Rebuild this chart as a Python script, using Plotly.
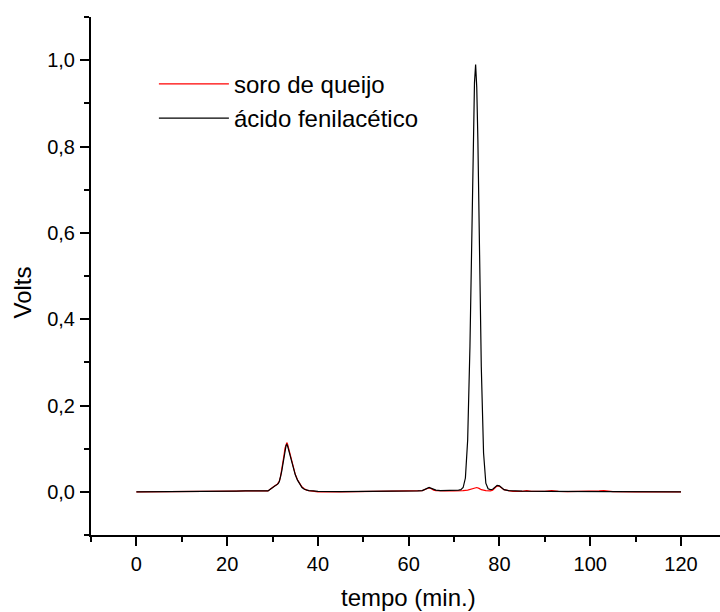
import plotly.graph_objects as go

# ---- data ----
x_acido = [0, 5, 10, 15, 20, 22, 24, 26, 27, 27.5, 28, 28.5, 29, 29.5, 30, 30.5, 31, 31.25, 31.5,
           31.75, 32, 32.25, 32.5, 32.75, 33, 33.15, 33.3, 33.5, 33.75, 34, 34.5, 35, 35.5, 36,
           36.5, 37, 37.5, 38, 39, 40, 45, 50, 55, 60, 62, 63, 64, 64.5, 65, 65.5, 66, 67, 68,
           70, 71, 71.5, 72, 72.5, 73, 73.5, 73.75, 74, 74.25, 74.5, 74.75, 75, 75.25, 75.5,
           75.75, 76, 76.5, 77, 77.5, 78, 78.5, 79, 79.5, 80, 80.5, 81, 82, 83, 85, 90, 95, 100,
           105, 110, 115, 120]
y_acido = [0.0, 0.0, 0.0005, 0.0005, 0.001, 0.0015, 0.002, 0.002, 0.003, 0.003, 0.0025, 0.002,
           0.002, 0.006, 0.010, 0.013, 0.016, 0.019, 0.024, 0.033, 0.046, 0.062, 0.080, 0.098,
           0.108, 0.110, 0.107, 0.099, 0.088, 0.077, 0.057, 0.040, 0.027, 0.017, 0.010, 0.006,
           0.004, 0.003, 0.002, 0.001, 0.0005, 0.0005, 0.001, 0.0015, 0.002, 0.003, 0.008, 0.010,
           0.008, 0.005, 0.004, 0.003, 0.003, 0.003, 0.004, 0.005, 0.010, 0.032, 0.12, 0.336,
           0.496, 0.671, 0.833, 0.948, 0.990, 0.937, 0.815, 0.64, 0.454, 0.29, 0.09, 0.02, 0.007,
           0.005, 0.006, 0.010, 0.015, 0.014, 0.009, 0.005, 0.003, 0.002, 0.0015, 0.001, 0.001,
           0.0005, 0.0005, 0.0005, 0.0, 0.0]

x_soro = [0, 5, 10, 15, 20, 22, 24, 26, 27, 27.5, 28, 28.5, 29, 29.5, 30, 30.5, 31, 31.25, 31.5,
          31.75, 32, 32.25, 32.5, 32.75, 33, 33.15, 33.3, 33.5, 33.75, 34, 34.5, 35, 35.5, 36,
          36.5, 37, 37.5, 38, 39, 40, 45, 50, 55, 60, 62, 63, 64, 64.5, 65, 65.5, 66, 67, 68,
          70, 71, 72, 73, 74, 75, 75.5, 76, 77, 78, 78.5, 79, 79.5, 80, 80.5, 81, 82, 83, 85,
          86, 87, 90, 91.5, 93, 95, 100, 102, 103, 104, 105, 110, 115, 120]
y_soro = [0.0, 0.0, 0.0, 0.0005, 0.001, 0.0015, 0.002, 0.002, 0.003, 0.003, 0.0025, 0.002,
          0.002, 0.006, 0.011, 0.014, 0.017, 0.020, 0.025, 0.034, 0.048, 0.065, 0.083, 0.101,
          0.111, 0.114, 0.111, 0.102, 0.090, 0.079, 0.058, 0.041, 0.028, 0.018, 0.011, 0.007,
          0.004, 0.003, 0.001, 0.0, 0.0, 0.0005, 0.0005, 0.001, 0.002, 0.003, 0.007, 0.009,
          0.007, 0.004, 0.003, 0.002, 0.002, 0.002, 0.002, 0.003, 0.004, 0.007, 0.010, 0.008,
          0.005, 0.003, 0.002, 0.004, 0.009, 0.014, 0.013, 0.009, 0.005, 0.003, 0.001, 0.001,
          0.003, 0.001, 0.001, 0.003, 0.001, 0.0005, 0.0005, 0.002, 0.003, 0.002, 0.0005, 0.0,
          0.0, 0.0]

series_names = ["soro de queijo", "ácido fenilacético"]
series_colors = ["#ff0000", "#000000"]

x_ticks = [0, 20, 40, 60, 80, 100, 120]
y_ticks = [0.0, 0.2, 0.4, 0.6, 0.8, 1.0]

FONT = "Arial, 'Liberation Sans', sans-serif"

fig = go.Figure()
fig.add_trace(go.Scatter(x=x_soro, y=y_soro, mode="lines", name=series_names[0],
                         line=dict(color=series_colors[0], width=1.2)))
fig.add_trace(go.Scatter(x=x_acido, y=y_acido, mode="lines", name=series_names[1],
                         line=dict(color=series_colors[1], width=1.2)))

axis_common = dict(showgrid=False, zeroline=False, showline=True, linecolor="black",
                   linewidth=2, ticks="outside", ticklen=9, tickwidth=2, tickcolor="black",
                   tickfont=dict(family=FONT, size=20, color="black"))

fig.update_layout(
    width=720, height=612,
    margin=dict(l=91, r=0, t=17, b=77),
    paper_bgcolor="white", plot_bgcolor="white",
    separators=", ",
    font=dict(family=FONT, color="black"),
    xaxis=dict(range=[-10, 128.6], tickvals=x_ticks, ticklabelstandoff=1,
               minor=dict(dtick=10, tick0=0, ticks="outside", ticklen=5, tickwidth=2,
                          tickcolor="black"),
               **axis_common),
    yaxis=dict(range=[-0.1, 1.1], tickvals=y_ticks, tickformat=".1f", ticklabelstandoff=1,
               minor=dict(dtick=0.1, tick0=0, ticks="outside", ticklen=5, tickwidth=2,
                          tickcolor="black"),
               **axis_common),
    showlegend=True,
    legend=dict(x=0.1, y=0.9135, xanchor="left", yanchor="top", bgcolor="rgba(0,0,0,0)",
                font=dict(family=FONT, size=24, color="black"), itemwidth=70,
                tracegroupgap=0),
    annotations=[
        dict(text="Volts", xref="paper", yref="paper", x=-0.109, y=0.469, showarrow=False,
             textangle=-90, font=dict(family=FONT, size=24, color="black"),
             xanchor="center", yanchor="middle"),
        dict(text="tempo (min.)", xref="paper", yref="paper", x=0.504, y=-0.121,
             showarrow=False, font=dict(family=FONT, size=24, color="black"),
             xanchor="center", yanchor="middle"),
    ],
)

fig.write_html("out.html")
